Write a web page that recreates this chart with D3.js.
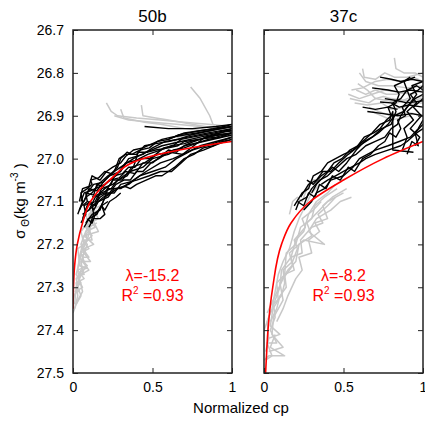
<!DOCTYPE html>
<html>
<head>
<meta charset="utf-8">
<script src="https://cdn.jsdelivr.net/npm/d3@7"></script>
<style>
  body { margin: 0; background: #fff; }
  text { font-family: "Liberation Sans", Arial, sans-serif; }
</style>
</head>
<body>
<script>
// panel names and axis ticks
const panelNames = ["50b", "37c"];
const yTicks = [26.7, 26.8, 26.9, 27.0, 27.1, 27.2, 27.3, 27.4, 27.5];
const xTicks = [0, 0.5, 1];
const lambdas = ["-15.2", "-8.2"];
const r2s = ["0.93", "0.93"];

// profiles as [normalized cp, sigma theta]
const greyLeft = [
  [[0.01,27.34],[0.02,27.3],[0.05,27.29],[0.02,27.27],[0.04,27.24],[0.03,27.21],[0.07,27.2],[0.05,27.17],[0.09,27.15],[0.08,27.12],[0.12,27.1]],
  [[0.0,27.36],[0.03,27.33],[0.06,27.31],[0.04,27.28],[0.08,27.25],[0.05,27.22],[0.09,27.19],[0.11,27.16],[0.1,27.13],[0.15,27.11]],
  [[0.01,27.32],[0.04,27.29],[0.03,27.26],[0.09,27.25],[0.04,27.23],[0.06,27.2],[0.12,27.18],[0.08,27.16],[0.13,27.14],[0.11,27.12]],
  [[0.02,27.3],[0.05,27.27],[0.1,27.26],[0.06,27.24],[0.07,27.21],[0.13,27.2],[0.07,27.18],[0.16,27.17],[0.12,27.14]],
  [[0.0,27.33],[0.02,27.31],[0.06,27.3],[0.03,27.28],[0.05,27.26],[0.09,27.255],[0.04,27.25],[0.05,27.22],[0.1,27.21],[0.06,27.19],[0.08,27.17],[0.14,27.16],[0.1,27.14],[0.12,27.12],[0.17,27.11]],
  [[0.01,27.35],[0.03,27.32],[0.02,27.29],[0.07,27.28],[0.03,27.26],[0.04,27.23],[0.08,27.22],[0.05,27.2],[0.07,27.18],[0.1,27.17],[0.09,27.15],[0.13,27.13],[0.15,27.12]],
  [[0.02,27.34],[0.05,27.32],[0.03,27.3],[0.04,27.27],[0.07,27.27],[0.05,27.25],[0.06,27.23],[0.1,27.23],[0.06,27.21],[0.09,27.19],[0.08,27.17],[0.11,27.15],[0.16,27.14],[0.13,27.12]],
  [[0.01,27.31],[0.04,27.31],[0.02,27.28],[0.06,27.26],[0.05,27.24],[0.11,27.24],[0.07,27.22],[0.09,27.2],[0.07,27.19],[0.12,27.19],[0.1,27.16],[0.15,27.15]],
  [[0.21,26.87],[0.24,26.89],[0.28,26.9],[0.4,26.905],[0.55,26.91],[0.7,26.915],[0.85,26.92],[1.0,26.925]],
  [[0.26,26.9],[0.35,26.91],[0.5,26.915],[0.65,26.92],[0.8,26.925],[1.0,26.93]],
  [[0.43,26.875],[0.44,26.9],[0.52,26.905],[0.6,26.91],[0.75,26.92],[0.9,26.93],[1.0,26.935]],
  [[0.74,26.833],[0.8,26.86],[0.86,26.9],[0.88,26.92],[0.95,26.93],[1.0,26.94]],
  [[0.3,26.885],[0.32,26.905],[0.45,26.915],[0.55,26.92],[0.7,26.93],[0.82,26.935],[1.0,26.95]],
  [[0.62,26.97],[0.66,26.95],[0.72,26.945],[0.85,26.94],[1.0,26.945]]
];

const blackLeft = [
  [[0.04,27.12],[0.08,27.09],[0.12,27.08],[0.16,27.06],[0.22,27.04],[0.3,27.02],[0.38,27.0],[0.46,26.985],[0.56,26.97],[0.68,26.96],[0.8,26.95],[0.92,26.94],[1.0,26.935]],
  [[0.06,27.14],[0.09,27.11],[0.14,27.1],[0.18,27.07],[0.25,27.06],[0.32,27.04],[0.36,27.03],[0.44,27.02],[0.5,27.0],[0.6,26.99],[0.7,26.97],[0.82,26.96],[1.0,26.945]],
  [[0.07,27.1],[0.1,27.07],[0.15,27.075],[0.2,27.05],[0.26,27.03],[0.29,27.0],[0.33,26.99],[0.4,26.99],[0.45,26.97],[0.52,26.965],[0.6,26.96],[0.72,26.95],[0.85,26.94],[1.0,26.93]],
  [[0.08,27.15],[0.12,27.13],[0.17,27.12],[0.2,27.09],[0.28,27.07],[0.35,27.06],[0.42,27.04],[0.5,27.03],[0.58,27.02],[0.65,27.0],[0.75,26.98],[0.88,26.965],[1.0,26.95]],
  [[0.05,27.1],[0.07,27.08],[0.11,27.075],[0.14,27.07],[0.2,27.06],[0.27,27.04],[0.33,27.01],[0.39,27.005],[0.47,26.99],[0.55,26.98],[0.62,26.97],[0.7,26.965],[0.78,26.955],[0.9,26.95],[1.0,26.94]],
  [[0.1,27.12],[0.14,27.09],[0.2,27.08],[0.25,27.05],[0.31,27.05],[0.37,27.02],[0.45,27.01],[0.53,26.99],[0.61,26.985],[0.69,26.99],[0.76,26.97],[0.83,26.95],[0.93,26.94],[1.0,26.93]],
  [[0.45,26.925],[0.6,26.93],[0.75,26.93],[0.9,26.925],[1.0,26.92]],
  [[0.09,27.08],[0.13,27.06],[0.19,27.055],[0.23,27.04],[0.3,27.03],[0.35,27.0],[0.44,26.99],[0.5,26.975],[0.58,26.96],[0.66,26.955],[0.74,26.945],[0.86,26.935],[1.0,26.925]],
  [[0.06,27.13],[0.1,27.12],[0.13,27.11],[0.17,27.09],[0.21,27.08],[0.26,27.08],[0.3,27.06],[0.4,27.05],[0.48,27.04],[0.55,27.03],[0.62,27.03],[0.68,27.01],[0.74,26.99],[0.82,26.98],[0.92,26.965],[1.0,26.955]],
  [[0.12,27.09],[0.18,27.08],[0.24,27.07],[0.28,27.05],[0.34,27.04],[0.38,27.02],[0.41,26.985],[0.47,26.985],[0.52,26.98],[0.6,26.975],[0.66,26.97],[0.7,26.96],[0.8,26.955],[0.9,26.945],[1.0,26.94]],
  [[0.07,27.16],[0.1,27.14],[0.15,27.13],[0.19,27.1],[0.22,27.07],[0.3,27.07],[0.38,27.05],[0.46,27.03],[0.55,27.01],[0.63,27.0],[0.72,26.985],[0.8,26.97],[0.9,26.96],[1.0,26.95]],
  [[0.6,26.955],[0.7,26.94],[0.8,26.935],[0.9,26.93],[1.0,26.925]],
  [[0.03,27.13],[0.06,27.1],[0.05,27.08],[0.09,27.07],[0.12,27.06],[0.11,27.05],[0.16,27.045],[0.2,27.03],[0.24,27.035],[0.28,27.02],[0.3,27.0],[0.34,26.985],[0.37,26.99],[0.42,26.98],[0.48,26.975],[0.53,26.96],[0.6,26.955],[0.66,26.945],[0.73,26.94],[0.8,26.935],[0.88,26.93],[0.95,26.925],[1.0,26.92]],
  [[0.05,27.15],[0.08,27.13],[0.07,27.11],[0.11,27.1],[0.13,27.12],[0.16,27.1],[0.19,27.09],[0.23,27.08],[0.27,27.06],[0.32,27.05],[0.36,27.05],[0.4,27.03],[0.44,27.03],[0.49,27.01],[0.54,27.0],[0.58,26.99],[0.63,26.98],[0.7,26.975],[0.77,26.965],[0.85,26.955],[0.93,26.95],[1.0,26.94]],
  [[0.08,27.12],[0.1,27.1],[0.14,27.11],[0.17,27.08],[0.2,27.07],[0.24,27.06],[0.26,27.04],[0.31,27.035],[0.35,27.02],[0.39,27.02],[0.43,27.0],[0.48,27.0],[0.52,26.99],[0.57,26.975],[0.63,26.97],[0.68,26.955],[0.75,26.95],[0.82,26.945],[0.89,26.94],[0.95,26.935],[1.0,26.935]],
  [[0.11,27.15],[0.13,27.13],[0.12,27.11],[0.16,27.1],[0.22,27.09],[0.26,27.07],[0.33,27.065],[0.36,27.07],[0.4,27.06],[0.46,27.05],[0.52,27.04],[0.56,27.04],[0.6,27.03],[0.64,27.02],[0.7,27.0],[0.76,26.99],[0.82,26.975],[0.88,26.97],[0.94,26.96],[1.0,26.955]],
  [[0.04,27.1],[0.06,27.07],[0.1,27.065],[0.12,27.04],[0.17,27.05],[0.21,27.03],[0.25,27.02],[0.3,27.01],[0.33,26.995],[0.38,26.98],[0.44,26.975],[0.5,26.965],[0.56,26.955],[0.62,26.95],[0.7,26.945],[0.78,26.94],[0.86,26.935],[0.93,26.93],[1.0,26.925]],
  [[0.06,27.11],[0.09,27.1],[0.08,27.08],[0.13,27.085],[0.15,27.06],[0.19,27.065],[0.23,27.05],[0.29,27.045],[0.33,27.03],[0.39,27.035],[0.44,27.01],[0.5,27.01],[0.55,26.995],[0.6,26.98],[0.65,26.985],[0.7,26.97],[0.76,26.96],[0.84,26.95],[0.92,26.945],[1.0,26.94]],
  [[0.09,27.14],[0.12,27.15],[0.14,27.13],[0.18,27.11],[0.2,27.12],[0.23,27.1],[0.27,27.09],[0.3,27.08]],
  [[0.1,27.16],[0.13,27.14],[0.17,27.14],[0.2,27.13],[0.18,27.11],[0.22,27.1]]
];

const greyRight = [
  [[0.01,27.45],[0.03,27.42],[0.02,27.38],[0.05,27.35],[0.07,27.31],[0.09,27.27],[0.12,27.24],[0.16,27.21],[0.19,27.17],[0.22,27.14],[0.26,27.11],[0.3,27.08],[0.35,27.06]],
  [[0.02,27.42],[0.1,27.41],[0.04,27.39],[0.06,27.34],[0.1,27.3],[0.11,27.26],[0.17,27.23],[0.2,27.19],[0.25,27.17],[0.28,27.13],[0.33,27.1],[0.4,27.08],[0.45,27.06]],
  [[0.03,27.45],[0.12,27.44],[0.05,27.41],[0.06,27.37],[0.12,27.33],[0.1,27.29],[0.15,27.26],[0.2,27.24],[0.22,27.2],[0.3,27.18],[0.27,27.15],[0.35,27.12],[0.4,27.1],[0.5,27.08]],
  [[0.0,27.4],[0.04,27.36],[0.09,27.33],[0.08,27.29],[0.13,27.27],[0.14,27.22],[0.2,27.2],[0.23,27.16],[0.3,27.14],[0.32,27.11],[0.38,27.09],[0.46,27.07]],
  [[0.02,27.36],[0.07,27.32],[0.12,27.28],[0.18,27.25],[0.16,27.22],[0.25,27.19],[0.38,27.2],[0.28,27.17],[0.33,27.14],[0.42,27.12],[0.48,27.1],[0.55,27.09]],
  [[0.16,27.13],[0.18,27.1],[0.21,27.09],[0.24,27.1],[0.27,27.07],[0.3,27.05],[0.33,27.05]],
  [[0.01,27.47],[0.05,27.46],[0.02,27.43],[0.08,27.43],[0.04,27.4],[0.07,27.37],[0.06,27.34],[0.11,27.32],[0.13,27.29],[0.12,27.26],[0.18,27.24],[0.21,27.21],[0.19,27.19],[0.26,27.16],[0.24,27.14],[0.31,27.12],[0.36,27.1]],
  [[0.04,27.38],[0.08,27.35],[0.1,27.32],[0.14,27.3],[0.13,27.27],[0.19,27.26],[0.17,27.23],[0.24,27.22],[0.23,27.19],[0.3,27.16],[0.37,27.15],[0.34,27.13],[0.4,27.11],[0.45,27.09]],
  [[0.0,27.47],[0.03,27.46],[0.13,27.46],[0.04,27.44],[0.07,27.41]],
  [[0.08,27.38],[0.12,27.35],[0.15,27.32],[0.2,27.28],[0.24,27.26],[0.22,27.23],[0.3,27.22],[0.28,27.19],[0.35,27.17],[0.32,27.15],[0.4,27.14],[0.37,27.11],[0.43,27.09],[0.52,27.07]],
  [[0.82,26.765],[0.83,26.79],[0.88,26.8],[0.95,26.8],[1.0,26.81]],
  [[0.55,26.84],[0.62,26.835],[0.7,26.82],[0.78,26.815],[0.86,26.82],[0.94,26.81],[1.0,26.82]],
  [[0.53,26.85],[0.6,26.86],[0.68,26.85],[0.76,26.84],[0.85,26.845],[0.93,26.85],[1.0,26.84]],
  [[0.6,26.8],[0.64,26.82],[0.72,26.83],[0.8,26.83],[0.9,26.835],[1.0,26.83]],
  [[0.57,26.87],[0.65,26.875],[0.74,26.87],[0.8,26.885],[0.88,26.88],[0.95,26.87],[1.0,26.87]],
  [[0.66,26.88],[0.72,26.89],[0.8,26.9],[0.88,26.89],[1.0,26.9]],
  [[0.59,26.825],[0.65,26.84],[0.7,26.86],[0.75,26.855],[0.8,26.86],[0.9,26.865],[1.0,26.86]],
  [[0.54,26.86],[0.6,26.865],[0.66,26.87],[0.7,26.86],[0.78,26.865],[0.84,26.87],[0.9,26.86],[1.0,26.855]],
  [[0.62,26.79],[0.63,26.81],[0.7,26.815],[0.76,26.8],[0.82,26.81],[0.9,26.81],[1.0,26.8]],
  [[0.58,26.84],[0.64,26.85],[0.7,26.84],[0.77,26.85],[0.83,26.85],[0.9,26.845]],
  [[0.68,26.89],[0.74,26.9],[0.8,26.91],[0.86,26.905],[0.92,26.9]]
];

const blackRight = [
  [[0.2,27.12],[0.22,27.1],[0.27,27.09],[0.3,27.07],[0.35,27.05],[0.4,27.04],[0.46,27.02],[0.52,27.0],[0.58,26.99],[0.64,26.97],[0.7,26.96],[0.76,26.95],[0.8,26.93],[0.84,26.92],[0.86,26.9],[0.9,26.88],[0.95,26.86],[1.0,26.85]],
  [[0.23,27.09],[0.28,27.06],[0.33,27.05],[0.37,27.03],[0.42,27.03],[0.47,27.01],[0.53,26.99],[0.6,26.97],[0.66,26.955],[0.72,26.94],[0.78,26.92],[0.82,26.9],[0.88,26.89],[0.92,26.87],[0.96,26.85],[0.93,26.83],[1.0,26.82]],
  [[0.25,27.12],[0.3,27.1],[0.33,27.08],[0.38,27.07],[0.42,27.05],[0.5,27.04],[0.56,27.02],[0.6,27.0],[0.65,26.99],[0.7,26.98],[0.78,26.97],[0.85,26.96],[0.92,26.95],[0.97,26.93],[1.0,26.91]],
  [[0.3,27.08],[0.33,27.06],[0.38,27.04],[0.43,27.02],[0.47,27.03],[0.52,27.01],[0.58,26.98],[0.63,26.96],[0.68,26.95],[0.74,26.93],[0.8,26.92],[0.83,26.89],[0.81,26.87],[0.86,26.86],[0.9,26.84],[0.88,26.82],[0.95,26.81]],
  [[0.19,27.11],[0.24,27.08],[0.28,27.07],[0.31,27.04],[0.36,27.03],[0.4,27.01],[0.45,27.0],[0.5,26.99],[0.56,26.98],[0.62,26.96],[0.68,26.94],[0.73,26.92],[0.79,26.91],[0.81,26.89],[0.81,26.98],[0.94,26.985]],
  [[0.87,26.98],[0.9,26.95],[0.88,26.93],[0.94,26.91],[0.9,26.89],[0.96,26.87],[0.92,26.85],[0.97,26.84],[1.0,26.83]],
  [[0.95,26.97],[0.98,26.95],[0.92,26.93],[0.99,26.9],[0.94,26.88],[1.0,26.86]],
  [[0.68,26.835],[0.78,26.84],[0.85,26.845],[0.92,26.84],[1.0,26.845]],
  [[0.65,26.89],[0.75,26.895],[0.84,26.9],[0.93,26.895],[1.0,26.9]],
  [[0.76,26.86],[0.84,26.865],[0.9,26.87],[1.0,26.865]],
  [[0.36,27.06],[0.4,27.05],[0.45,27.04],[0.5,27.03],[0.55,27.02],[0.6,27.01],[0.64,27.0],[0.7,26.99],[0.78,26.98],[0.86,26.97],[0.9,26.96],[0.96,26.94],[1.0,26.93]],
  [[0.21,27.1],[0.25,27.11],[0.28,27.08],[0.32,27.09],[0.35,27.06],[0.39,27.07],[0.43,27.04],[0.48,27.05],[0.53,27.02],[0.57,27.03],[0.62,27.0],[0.67,26.99],[0.72,26.97],[0.76,26.96],[0.79,26.94],[0.83,26.95],[0.86,26.93],[0.84,26.91],[0.89,26.9],[0.87,26.88],[0.92,26.86],[0.9,26.84],[0.96,26.83],[1.0,26.84]],
  [[0.27,27.05],[0.31,27.06],[0.36,27.04],[0.4,27.03],[0.44,27.01],[0.49,27.0],[0.54,26.98],[0.59,26.97],[0.63,26.95],[0.69,26.94],[0.73,26.93],[0.77,26.91],[0.8,26.9],[0.78,26.88],[0.83,26.87],[0.85,26.85],[0.82,26.83],[0.88,26.82],[0.92,26.81]],
  [[0.73,26.81],[0.8,26.815],[0.86,26.82],[0.93,26.815],[1.0,26.82]],
  [[0.73,26.868],[0.8,26.87],[0.85,26.88],[0.91,26.875],[1.0,26.88]],
  [[0.62,26.88],[0.7,26.885],[0.78,26.88],[0.84,26.885]],
  [[0.9,26.99],[0.93,26.96],[0.97,26.97],[0.95,26.94],[1.0,26.92]]
];

// fitted curves
const fitLeft = [[0.0,27.35],[0.003,27.3],[0.01,27.25],[0.027,27.2],[0.06,27.15],[0.11,27.1],[0.23,27.05],[0.44,27.0],[0.67,26.98],[0.82,26.97],[1.0,26.96]];
const fitRight = [[0.01,27.5],[0.017,27.45],[0.025,27.4],[0.055,27.3],[0.11,27.2],[0.17,27.15],[0.29,27.1],[0.5,27.05],[0.75,27.0],[1.0,26.96]];

const width = 425, height = 421;
const plotTop = 30, h = 343, w = 159;
const plotLefts = [73, 264];
const greys = [greyLeft, greyRight];
const blacks = [blackLeft, blackRight];
const fits = [fitLeft, fitRight];

const svg = d3.select("body").append("svg")
  .attr("width", width)
  .attr("height", height);

const x = d3.scaleLinear().domain([0, 1]).range([0, w]);
const y = d3.scaleLinear().domain([26.7, 27.5]).range([0, h]);
const line = d3.line().x(d => x(d[0])).y(d => y(d[1]));

panelNames.forEach((name, i) => {
  const g = svg.append("g").attr("transform", `translate(${plotLefts[i]},${plotTop})`);

  g.append("clipPath").attr("id", "clip" + i)
    .append("rect").attr("width", w).attr("height", h);

  const plot = g.append("g").attr("clip-path", `url(#clip${i})`);

  plot.selectAll(".grey")
    .data(greys[i])
    .enter().append("path")
    .attr("class", "grey")
    .attr("d", line)
    .attr("fill", "none")
    .attr("stroke", "#c8c8c8")
    .attr("stroke-width", 1.5)
    .attr("stroke-linejoin", "round");

  plot.selectAll(".black")
    .data(blacks[i])
    .enter().append("path")
    .attr("class", "black")
    .attr("d", line)
    .attr("fill", "none")
    .attr("stroke", "#000")
    .attr("stroke-width", 1.4)
    .attr("stroke-linejoin", "round");

  plot.append("path")
    .attr("d", d3.line().curve(d3.curveMonotoneY).x(d => x(d[0])).y(d => y(d[1]))(fits[i]))
    .attr("fill", "none")
    .attr("stroke", "#ff0000")
    .attr("stroke-width", 1.6);

  // axes with inward ticks
  const axLeft = g.append("g").call(d3.axisLeft(y).tickValues(yTicks)
    .tickSizeInner(-5).tickSizeOuter(0).tickPadding(9)
    .tickFormat(i === 0 ? d3.format(".1f") : () => ""));
  const axRight = g.append("g").attr("transform", `translate(${w},0)`)
    .call(d3.axisRight(y).tickValues(yTicks).tickSizeInner(-5).tickSizeOuter(0).tickFormat(() => ""));
  const axTop = g.append("g")
    .call(d3.axisTop(x).tickValues(xTicks).tickSizeInner(-5).tickSizeOuter(0).tickFormat(() => ""));
  const axBottom = g.append("g").attr("transform", `translate(0,${h})`)
    .call(d3.axisBottom(x).tickValues(xTicks).tickSizeInner(-5).tickSizeOuter(0).tickPadding(9)
      .tickFormat(d3.format("")));

  [axLeft, axRight, axTop, axBottom].forEach(a => {
    a.select(".domain").remove();
    a.selectAll("line").attr("stroke", "#222").attr("stroke-width", 1);
    a.selectAll("text").attr("font-size", 14).attr("fill", "#000")
      .attr("font-family", "Liberation Sans, Arial, sans-serif");
  });

  g.append("rect")
    .attr("width", w).attr("height", h)
    .attr("fill", "none").attr("stroke", "#222").attr("stroke-width", 1.5);

  g.append("text")
    .attr("x", w / 2).attr("y", -8)
    .attr("text-anchor", "middle")
    .attr("font-size", 17)
    .text(name);

  const ann = g.append("text")
    .attr("text-anchor", "middle")
    .attr("fill", "#ff0000")
    .attr("font-size", 16);
  ann.append("tspan").attr("x", x(0.5)).attr("y", y(27.2857)).text(`λ=${lambdas[i]}`);
  const r = ann.append("tspan").attr("x", x(0.5)).attr("y", y(27.332)).text("R");
  r.append("tspan").attr("font-size", 10).attr("dy", -7).text("2");
  r.append("tspan").attr("dy", 7).text(` =${r2s[i]}`);
});

svg.append("text")
  .attr("x", 241).attr("y", 413)
  .attr("text-anchor", "middle")
  .attr("font-size", 15)
  .text("Normalized cp");

const yl = svg.append("text")
  .attr("transform", "translate(25,201) rotate(-90)")
  .attr("text-anchor", "middle")
  .attr("font-size", 15);
yl.append("tspan").text("σ");
yl.append("tspan").attr("font-size", 10).attr("dy", 4).text(" Θ");
yl.append("tspan").attr("dy", -4).text("(kg m");
yl.append("tspan").attr("font-size", 10).attr("dy", -7).text("-3");
yl.append("tspan").attr("dy", 7).text(" )");
</script>
</body>
</html>
